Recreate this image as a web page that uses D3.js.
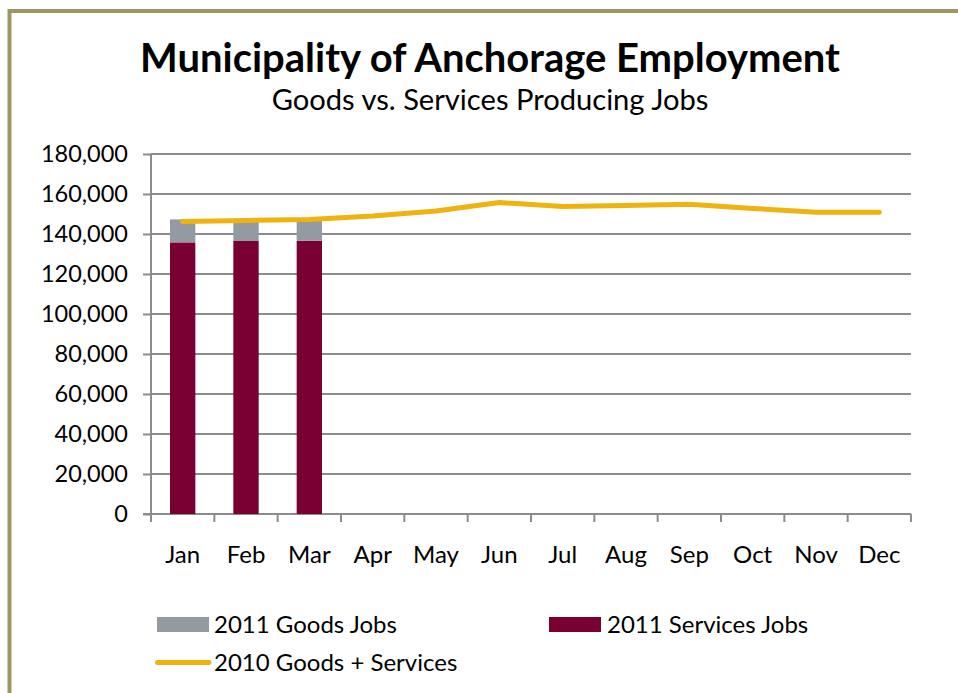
<!DOCTYPE html>
<html>
<head>
<meta charset="utf-8">
<script src="https://cdn.jsdelivr.net/npm/d3@7"></script>
<style>
  html, body { margin: 0; padding: 0; background: #fff; }
  svg { display: block; }
  text { font-family: Lato, "Open Sans", sans-serif; fill: #000; }
</style>
</head>
<body>
<svg id="chart" width="958" height="693"></svg>
<script>
const months = ["Jan","Feb","Mar","Apr","May","Jun","Jul","Aug","Sep","Oct","Nov","Dec"];
const services2011 = [135800, 136500, 136600];
const goods2011 = [11500, 9800, 10400];
const total2010 = [146200, 146800, 147300, 149000, 151500, 155700, 153800, 154300, 154900, 152800, 150900, 150900];
const yTicks = [0, 20000, 40000, 60000, 80000, 100000, 120000, 140000, 160000, 180000];

const svg = d3.select("#chart");

// Frame border
svg.append("path")
  .attr("d", "M9.5,693 L9.5,11 L958,11")
  .attr("fill", "none").attr("stroke", "#9e9764").attr("stroke-width", 4);

function fitText(sel, width) {
  const w = sel.node().getComputedTextLength();
  const fs = parseFloat(sel.attr("font-size"));
  sel.attr("font-size", fs * width / w);
}

const title = svg.append("text").attr("x", 490).attr("y", 72)
  .attr("text-anchor", "middle").attr("font-size", 36).attr("font-weight", "bold")
  .text("Municipality of Anchorage Employment");
fitText(title, 700);
const sub = svg.append("text").attr("x", 490).attr("y", 110)
  .attr("text-anchor", "middle").attr("font-size", 26)
  .text("Goods vs. Services Producing Jobs");
fitText(sub, 437);

const x0 = 151, x1 = 911, yTop = 154, yBot = 514;
const x = d3.scaleBand().domain(months).range([x0, x1]).paddingInner(0.6).paddingOuter(0.3);
const xc = d3.scaleBand().domain(months).range([x0, x1]);
const y = d3.scaleLinear().domain([0, 180000]).range([yBot, yTop]);

// gridlines
svg.append("g").selectAll("line").data(yTicks.slice(1)).join("line")
  .attr("x1", x0).attr("x2", x1)
  .attr("y1", d => y(d)).attr("y2", d => y(d))
  .attr("stroke", "#8c8c8c").attr("stroke-width", 2);

// y axis
const yAxis = svg.append("g").attr("transform", `translate(${x0},0)`)
  .call(d3.axisLeft(y).tickValues(yTicks).tickSize(8).tickPadding(15).tickFormat(d3.format(",")));
yAxis.select(".domain").attr("stroke", "#8c8c8c").attr("stroke-width", 2)
  .attr("d", `M0,${yTop}V${yBot + 8}`);
yAxis.selectAll(".tick line").attr("stroke", "#8c8c8c").attr("stroke-width", 2);
yAxis.selectAll(".tick text").attr("font-size", 23.5).attr("font-family", "Lato, sans-serif").attr("fill", "#000");

// x axis
const xAxis = svg.append("g").attr("transform", `translate(0,${yBot})`)
  .call(d3.axisBottom(xc).tickSize(0).tickPadding(32));
xAxis.select(".domain").attr("stroke", "#8c8c8c").attr("stroke-width", 2).attr("d", `M${x0 - 8},0H${x1}`);
xAxis.selectAll(".tick text").attr("font-size", 24).attr("font-family", "Lato, sans-serif").attr("fill", "#000");
const boundaries = months.map(m => xc(m)).concat([x1]);
svg.append("g").selectAll("line").data(boundaries).join("line")
  .attr("x1", d => d).attr("x2", d => d).attr("y1", yBot).attr("y2", yBot + 8)
  .attr("stroke", "#8c8c8c").attr("stroke-width", 2);

// bars
const barData = services2011.map((s, i) => ({ m: months[i], s, g: goods2011[i] }));
svg.append("g").selectAll("rect.s").data(barData).join("rect")
  .attr("x", d => x(d.m)).attr("width", x.bandwidth())
  .attr("y", d => y(d.s)).attr("height", d => y(0) - y(d.s))
  .attr("fill", "#7b0032");
svg.append("g").selectAll("rect.g").data(barData).join("rect")
  .attr("x", d => x(d.m)).attr("width", x.bandwidth())
  .attr("y", d => y(d.s + d.g)).attr("height", d => y(d.s) - y(d.s + d.g))
  .attr("fill", "#939aa1");

// line
const line = d3.line().x((d, i) => xc(months[i]) + xc.bandwidth() / 2).y(d => y(d));
svg.append("path").datum(total2010).attr("d", line)
  .attr("fill", "none").attr("stroke", "#efb20f").attr("stroke-width", 5)
  .attr("stroke-linecap", "round").attr("stroke-linejoin", "round");

// legend
const leg = svg.append("g");
leg.append("rect").attr("x", 157).attr("y", 617).attr("width", 52).attr("height", 15).attr("fill", "#939aa1");
leg.append("text").attr("x", 214).attr("y", 633).attr("font-size", 24).text("2011 Goods Jobs");
leg.append("rect").attr("x", 549).attr("y", 617).attr("width", 52).attr("height", 15).attr("fill", "#7b0032");
leg.append("text").attr("x", 607).attr("y", 633).attr("font-size", 24).text("2011 Services Jobs");
leg.append("line").attr("x1", 157.5).attr("x2", 209).attr("y1", 662.5).attr("y2", 662.5)
  .attr("stroke", "#efb20f").attr("stroke-width", 5).attr("stroke-linecap", "round");
leg.append("text").attr("x", 214).attr("y", 671).attr("font-size", 24).text("2010 Goods + Services");
</script>
</body>
</html>
